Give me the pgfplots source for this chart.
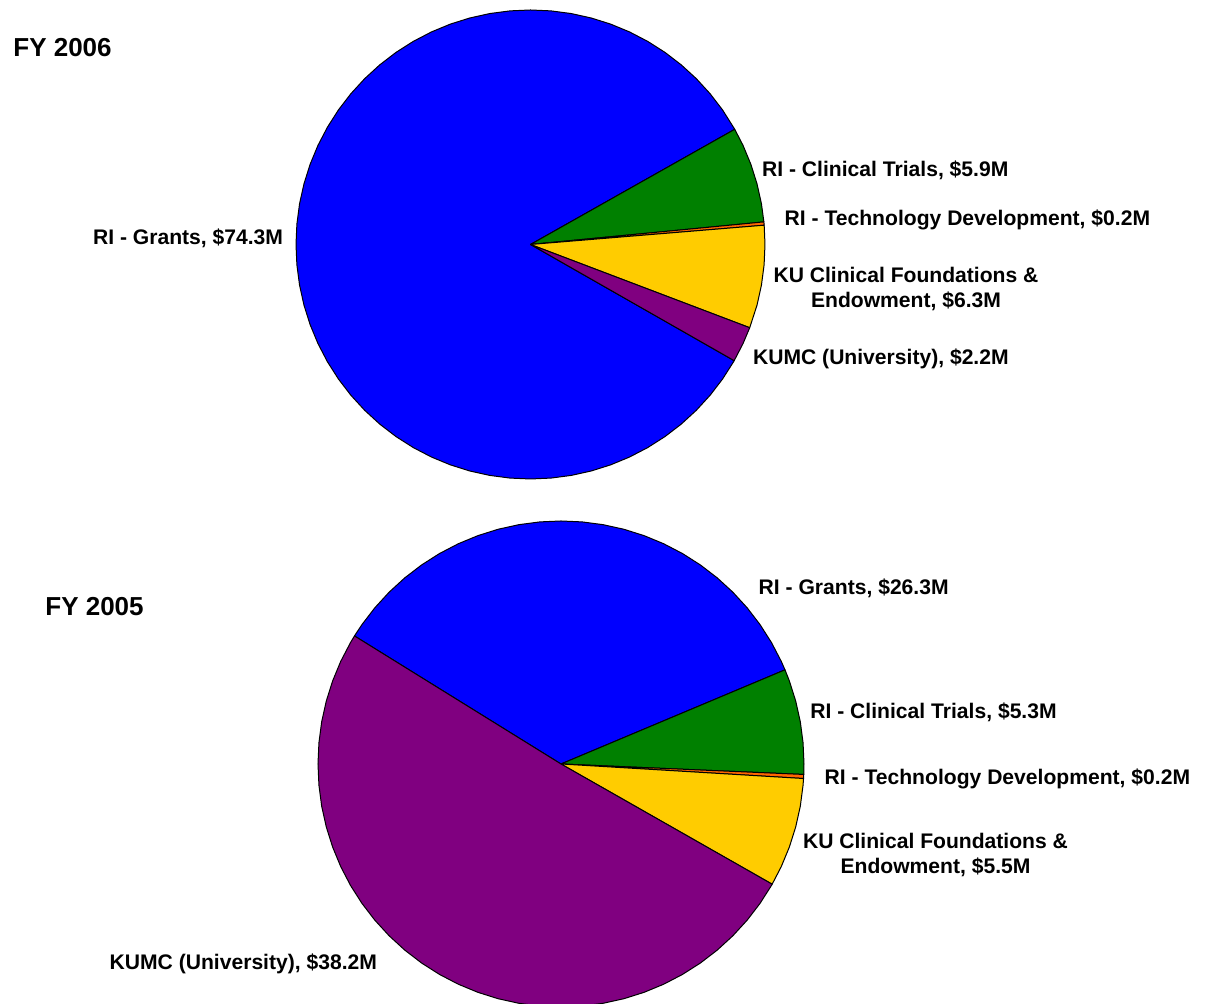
\documentclass[border=0pt]{standalone}
\usepackage{fontspec}
\setmainfont{Liberation Sans}
\usepackage{xcolor}
\usepackage{pgfplots}
\pgfplotsset{compat=1.18}
\usepgfplotslibrary{polar}
\definecolor{piblue}{HTML}{0000FF}
\definecolor{pigreen}{HTML}{008000}
\definecolor{piorange}{HTML}{FF6600}
\definecolor{piyellow}{HTML}{FFCC00}
\definecolor{pipurple}{HTML}{800080}
\newcommand{\lbl}{\bfseries\fontsize{10.55}{12}\selectfont}
\newcommand{\ttl}{\bfseries\fontsize{13}{15}\selectfont}
% slice angles in degrees from the values:
% FY2006: 74.3, 5.9, 0.2, 6.3, 2.2 (total 88.9)
% FY2005: 26.3, 5.3, 0.2, 5.5, 38.2 (total 75.5)
\pgfplotsset{pie/.style={hide axis,clip=false,scale only axis,
  ymin=0,ymax=1,anchor=origin},
  slice/.style={fill=#1,draw=black,line width=0.5pt,line join=round}}

\begin{document}
\begin{tikzpicture}[x=0.5pt,y=0.5pt]
\useasboundingbox (0,0) rectangle (1212,1004);

% FY 2006
\begin{polaraxis}[pie,at={(265.25pt,379.75pt)},width=234.5pt,height=234.5pt]
\addplot[slice=piblue] coordinates {(0,0) (29.42,1) (35,1) (40,1) (45,1) (50,1) (55,1) (60,1) (65,1) (70,1) (75,1) (80,1) (85,1) (90,1) (95,1) (100,1) (105,1) (110,1) (115,1) (120,1) (125,1) (130,1) (135,1) (140,1) (145,1) (150,1) (155,1) (160,1) (165,1) (170,1) (175,1) (180,1) (185,1) (190,1) (195,1) (200,1) (205,1) (210,1) (215,1) (220,1) (225,1) (230,1) (235,1) (240,1) (245,1) (250,1) (255,1) (260,1) (265,1) (270,1) (275,1) (280,1) (285,1) (290,1) (295,1) (300,1) (305,1) (310,1) (315,1) (320,1) (325,1) (330,1) (330.3,1)} -- cycle;
\addplot[slice=pigreen] coordinates {(0,0) (5.53,1) (10,1) (15,1) (20,1) (25,1) (29.42,1)} -- cycle;
\addplot[slice=piorange] coordinates {(0,0) (4.72,1) (5.53,1)} -- cycle;
\addplot[slice=piyellow] coordinates {(0,0) (-20.79,1) (-15,1) (-10,1) (-5,1) (0,1) (4.72,1)} -- cycle;
\addplot[slice=pipurple] coordinates {(0,0) (-29.7,1) (-25,1) (-20.79,1)} -- cycle;
\end{polaraxis}

% FY 2005
\begin{polaraxis}[pie,at={(280.5pt,120pt)},width=243pt,height=243pt]
\addplot[slice=piblue] coordinates {(0,0) (22.8,1) (25,1) (30,1) (35,1) (40,1) (45,1) (50,1) (55,1) (60,1) (65,1) (70,1) (75,1) (80,1) (85,1) (90,1) (95,1) (100,1) (105,1) (110,1) (115,1) (120,1) (125,1) (130,1) (135,1) (140,1) (145,1) (148.2,1)} -- cycle;
\addplot[slice=pigreen] coordinates {(0,0) (-2.47,1) (0,1) (5,1) (10,1) (15,1) (20,1) (22.8,1)} -- cycle;
\addplot[slice=piorange] coordinates {(0,0) (-3.43,1) (-2.47,1)} -- cycle;
\addplot[slice=piyellow] coordinates {(0,0) (-29.65,1) (-25,1) (-20,1) (-15,1) (-10,1) (-5,1) (-3.43,1)} -- cycle;
\addplot[slice=pipurple] coordinates {(0,0) (-211.8,1) (-210,1) (-205,1) (-200,1) (-195,1) (-190,1) (-185,1) (-180,1) (-175,1) (-170,1) (-165,1) (-160,1) (-155,1) (-150,1) (-145,1) (-140,1) (-135,1) (-130,1) (-125,1) (-120,1) (-115,1) (-110,1) (-105,1) (-100,1) (-95,1) (-90,1) (-85,1) (-80,1) (-75,1) (-70,1) (-65,1) (-60,1) (-55,1) (-50,1) (-45,1) (-40,1) (-35,1) (-30,1) (-29.65,1)} -- cycle;
\end{polaraxis}

% titles and labels
\node[anchor=base west,inner sep=0pt] at (13,947) {\ttl FY 2006};
\node[anchor=base west,inner sep=0pt] at (45,388) {\ttl FY 2005};

\node[anchor=base west,inner sep=0pt] at (92.7,759) {\lbl RI - Grants, \$74.3M};
\node[anchor=base west,inner sep=0pt] at (761.7,827) {\lbl RI - Clinical Trials, \$5.9M};
\node[anchor=base west,inner sep=0pt] at (784.3,778.5) {\lbl RI - Technology Development, \$0.2M};
\node[anchor=base,inner sep=0pt] at (906,721.3) {\lbl KU Clinical Foundations \&};
\node[anchor=base,inner sep=0pt] at (906,696.7) {\lbl Endowment, \$6.3M};
\node[anchor=base west,inner sep=0pt] at (752.7,639) {\lbl KUMC (University), \$2.2M};

\node[anchor=base west,inner sep=0pt] at (758.3,409.7) {\lbl RI - Grants, \$26.3M};
\node[anchor=base west,inner sep=0pt] at (810,285) {\lbl RI - Clinical Trials, \$5.3M};
\node[anchor=base west,inner sep=0pt] at (824.3,219) {\lbl RI - Technology Development, \$0.2M};
\node[anchor=base,inner sep=0pt] at (935.5,155.7) {\lbl KU Clinical Foundations \&};
\node[anchor=base,inner sep=0pt] at (935.5,130.7) {\lbl Endowment, \$5.5M};
\node[anchor=base west,inner sep=0pt] at (109.3,34) {\lbl KUMC (University), \$38.2M};
\end{tikzpicture}
\end{document}
